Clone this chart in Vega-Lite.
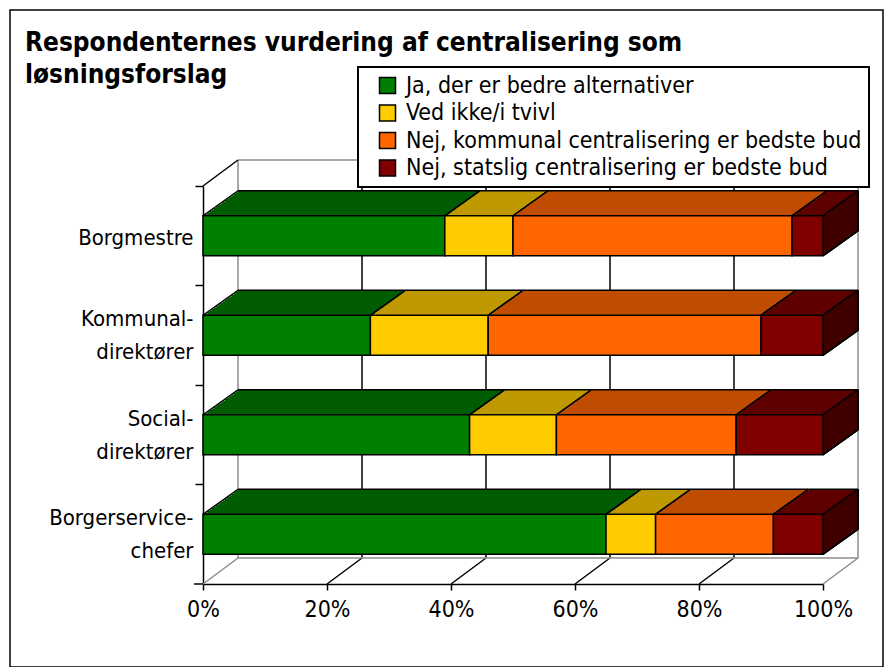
{
"$schema":"https://vega.github.io/schema/vega-lite/v6.json",
"width":873,"height":657,
"autosize":{"type":"none"},
"padding":{"left":10,"top":10,"right":10,"bottom":0},
"background":"#ffffff",
"title":{"text":["Respondenternes vurdering af centralisering som","løsningsforslag"],"anchor":"start","frame":"group","orient":"top","offset":0,"dx":15,"dy":78,"baseline":"top","font":"DejaVu Sans Condensed","fontSize":26,"fontWeight":"bold","lineHeight":32,"color":"#000000"},
"datasets":{
"survey":[
{"group":"Borgmestre","answer":"Ja, der er bedre alternativer","pct":39},
{"group":"Borgmestre","answer":"Ved ikke/i tvivl","pct":11},
{"group":"Borgmestre","answer":"Nej, kommunal centralisering er bedste bud","pct":45},
{"group":"Borgmestre","answer":"Nej, statslig centralisering er bedste bud","pct":5},
{"group":"Kommunal-direktører","answer":"Ja, der er bedre alternativer","pct":27},
{"group":"Kommunal-direktører","answer":"Ved ikke/i tvivl","pct":19},
{"group":"Kommunal-direktører","answer":"Nej, kommunal centralisering er bedste bud","pct":44},
{"group":"Kommunal-direktører","answer":"Nej, statslig centralisering er bedste bud","pct":10},
{"group":"Social-direktører","answer":"Ja, der er bedre alternativer","pct":43},
{"group":"Social-direktører","answer":"Ved ikke/i tvivl","pct":14},
{"group":"Social-direktører","answer":"Nej, kommunal centralisering er bedste bud","pct":29},
{"group":"Social-direktører","answer":"Nej, statslig centralisering er bedste bud","pct":14},
{"group":"Borgerservice-chefer","answer":"Ja, der er bedre alternativer","pct":65},
{"group":"Borgerservice-chefer","answer":"Ved ikke/i tvivl","pct":8},
{"group":"Borgerservice-chefer","answer":"Nej, kommunal centralisering er bedste bud","pct":19},
{"group":"Borgerservice-chefer","answer":"Nej, statslig centralisering er bedste bud","pct":8}
],
"grid":[{"v":0},{"v":20},{"v":40},{"v":60},{"v":80},{"v":100}]
},
"layer":[
{
"data":{"name":"grid"},
"encoding":{"x":{"field":"v","type":"quantitative","scale":{"domain":[0,100],"range":[193,813],"nice":false},"axis":null}},
"layer":[
{"mark":{"type":"rule","xOffset":35,"yOffset":-26,"y2Offset":-26,"strokeWidth":1.5},
 "encoding":{"y":{"datum":0,"type":"quantitative","scale":{"domain":[0,1],"range":[176,574],"nice":false,"zero":false},"axis":null},"y2":{"datum":1},
 "color":{"condition":{"test":"datum.v==0||datum.v==100","value":"#8c8c8c"},"value":"#000000"}}},
{"mark":{"type":"rule","x2Offset":35,"y2Offset":-26,"strokeWidth":1.5},
 "encoding":{"x2":{"field":"v"},"y":{"datum":1,"type":"quantitative"},"y2":{"datum":1},
 "color":{"condition":{"test":"datum.v==0||datum.v==100","value":"#8c8c8c"},"value":"#000000"}}},
{"transform":[{"filter":"datum.v==0"}],
 "mark":{"type":"rule","xOffset":35,"x2Offset":35,"yOffset":-26,"y2Offset":-26,"strokeWidth":1.5,"color":"#8c8c8c"},
 "encoding":{"x":{"datum":0,"type":"quantitative"},"x2":{"datum":100},"y":{"datum":1,"type":"quantitative"},"y2":{"datum":1}}},
{"transform":[{"filter":"datum.v==0"}],
 "mark":{"type":"rule","xOffset":35,"x2Offset":35,"yOffset":-26,"y2Offset":-26,"strokeWidth":1.5,"color":"#8c8c8c"},
 "encoding":{"x":{"datum":0,"type":"quantitative"},"x2":{"datum":100},"y":{"datum":0,"type":"quantitative"},"y2":{"datum":0}}},
{"transform":[{"filter":"datum.v==0"}],
 "mark":{"type":"rule","x2Offset":35,"y2Offset":-26,"strokeWidth":1.5,"color":"#000000"},
 "encoding":{"x":{"datum":0,"type":"quantitative"},"x2":{"datum":0},"y":{"datum":0,"type":"quantitative"},"y2":{"datum":0}}},
{"transform":[{"filter":"datum.v==0"}],
 "mark":{"type":"rule","x2Offset":-9,"strokeWidth":1.5,"color":"#000000"},
 "encoding":{"x":{"datum":0,"type":"quantitative"},"x2":{"datum":0},"y":{"datum":1,"type":"quantitative"},"y2":{"datum":1}}}
]
},
{
"data":{"name":"survey"},
"transform":[{"stack":"pct","groupby":["group"],"as":["x0","x1"]}],
"encoding":{
 "x":{"field":"x0","type":"quantitative","scale":{"domain":[0,100],"range":[193,813],"nice":false},"axis":null},
 "x2":{"field":"x1"},
 "y":{"field":"group","type":"nominal","sort":null,"scale":{"range":[176,574],"paddingInner":0,"paddingOuter":0},"axis":null}
},
"layer":[
{"mark":{"type":"bar","height":40,"xOffset":35,"x2Offset":35,"yOffset":-25},"encoding":{
 "y":{"field":"group","type":"nominal","sort":null,"axis":{"orient":"left","offset":-193,"labels":false,"ticks":true,"tickSize":8,"tickColor":"#000000","tickWidth":1.5,"domain":true,"domainColor":"#000000","domainWidth":1.5,"bandPosition":0,"title":null,"grid":false}},
 "fill":{"field":"answer","type":"nominal","scale":{"domain":["Ja, der er bedre alternativer","Ved ikke/i tvivl","Nej, kommunal centralisering er bedste bud","Nej, statslig centralisering er bedste bud"],"range":["#005c00","#bf9900","#bf4c00","#5f0000"]},"legend":null}}},
{"mark":{"type":"bar","height":40,"xOffset":32.81,"x2Offset":32.81,"yOffset":-23.44},"encoding":{"fill":{"field":"answer","type":"nominal","legend":null}}},
{"mark":{"type":"bar","height":40,"xOffset":30.63,"x2Offset":30.63,"yOffset":-21.88},"encoding":{"fill":{"field":"answer","type":"nominal","legend":null}}},
{"mark":{"type":"bar","height":40,"xOffset":28.44,"x2Offset":28.44,"yOffset":-20.31},"encoding":{"fill":{"field":"answer","type":"nominal","legend":null}}},
{"mark":{"type":"bar","height":40,"xOffset":26.25,"x2Offset":26.25,"yOffset":-18.75},"encoding":{"fill":{"field":"answer","type":"nominal","legend":null}}},
{"mark":{"type":"bar","height":40,"xOffset":24.06,"x2Offset":24.06,"yOffset":-17.19},"encoding":{"fill":{"field":"answer","type":"nominal","legend":null}}},
{"mark":{"type":"bar","height":40,"xOffset":21.88,"x2Offset":21.88,"yOffset":-15.63},"encoding":{"fill":{"field":"answer","type":"nominal","legend":null}}},
{"mark":{"type":"bar","height":40,"xOffset":19.69,"x2Offset":19.69,"yOffset":-14.06},"encoding":{"fill":{"field":"answer","type":"nominal","legend":null}}},
{"mark":{"type":"bar","height":40,"xOffset":17.5,"x2Offset":17.5,"yOffset":-12.5},"encoding":{"fill":{"field":"answer","type":"nominal","legend":null}}},
{"mark":{"type":"bar","height":40,"xOffset":15.31,"x2Offset":15.31,"yOffset":-10.94},"encoding":{"fill":{"field":"answer","type":"nominal","legend":null}}},
{"mark":{"type":"bar","height":40,"xOffset":13.13,"x2Offset":13.13,"yOffset":-9.38},"encoding":{"fill":{"field":"answer","type":"nominal","legend":null}}},
{"mark":{"type":"bar","height":40,"xOffset":10.94,"x2Offset":10.94,"yOffset":-7.81},"encoding":{"fill":{"field":"answer","type":"nominal","legend":null}}},
{"mark":{"type":"bar","height":40,"xOffset":8.75,"x2Offset":8.75,"yOffset":-6.25},"encoding":{"fill":{"field":"answer","type":"nominal","legend":null}}},
{"mark":{"type":"bar","height":40,"xOffset":6.56,"x2Offset":6.56,"yOffset":-4.69},"encoding":{"fill":{"field":"answer","type":"nominal","legend":null}}},
{"mark":{"type":"bar","height":40,"xOffset":4.38,"x2Offset":4.38,"yOffset":-3.13},"encoding":{"fill":{"field":"answer","type":"nominal","legend":null}}},
{"mark":{"type":"bar","height":40,"xOffset":2.19,"x2Offset":2.19,"yOffset":-1.56},"encoding":{"fill":{"field":"answer","type":"nominal","legend":null}}},
{"mark":{"type":"bar","height":40,"xOffset":32.3,"x2Offset":35,"yOffset":-25,"color":"#400000"},"encoding":{"x":{"datum":100,"type":"quantitative"},"x2":{"datum":100}}},
{"mark":{"type":"bar","height":40,"xOffset":30.1,"x2Offset":32.81,"yOffset":-23.44,"color":"#400000"},"encoding":{"x":{"datum":100,"type":"quantitative"},"x2":{"datum":100}}},
{"mark":{"type":"bar","height":40,"xOffset":27.9,"x2Offset":30.63,"yOffset":-21.88,"color":"#400000"},"encoding":{"x":{"datum":100,"type":"quantitative"},"x2":{"datum":100}}},
{"mark":{"type":"bar","height":40,"xOffset":25.7,"x2Offset":28.44,"yOffset":-20.31,"color":"#400000"},"encoding":{"x":{"datum":100,"type":"quantitative"},"x2":{"datum":100}}},
{"mark":{"type":"bar","height":40,"xOffset":23.5,"x2Offset":26.25,"yOffset":-18.75,"color":"#400000"},"encoding":{"x":{"datum":100,"type":"quantitative"},"x2":{"datum":100}}},
{"mark":{"type":"bar","height":40,"xOffset":21.3,"x2Offset":24.06,"yOffset":-17.19,"color":"#400000"},"encoding":{"x":{"datum":100,"type":"quantitative"},"x2":{"datum":100}}},
{"mark":{"type":"bar","height":40,"xOffset":19.1,"x2Offset":21.88,"yOffset":-15.63,"color":"#400000"},"encoding":{"x":{"datum":100,"type":"quantitative"},"x2":{"datum":100}}},
{"mark":{"type":"bar","height":40,"xOffset":17.0,"x2Offset":19.69,"yOffset":-14.06,"color":"#400000"},"encoding":{"x":{"datum":100,"type":"quantitative"},"x2":{"datum":100}}},
{"mark":{"type":"bar","height":40,"xOffset":14.8,"x2Offset":17.5,"yOffset":-12.5,"color":"#400000"},"encoding":{"x":{"datum":100,"type":"quantitative"},"x2":{"datum":100}}},
{"mark":{"type":"bar","height":40,"xOffset":12.6,"x2Offset":15.31,"yOffset":-10.94,"color":"#400000"},"encoding":{"x":{"datum":100,"type":"quantitative"},"x2":{"datum":100}}},
{"mark":{"type":"bar","height":40,"xOffset":10.4,"x2Offset":13.13,"yOffset":-9.38,"color":"#400000"},"encoding":{"x":{"datum":100,"type":"quantitative"},"x2":{"datum":100}}},
{"mark":{"type":"bar","height":40,"xOffset":8.2,"x2Offset":10.94,"yOffset":-7.81,"color":"#400000"},"encoding":{"x":{"datum":100,"type":"quantitative"},"x2":{"datum":100}}},
{"mark":{"type":"bar","height":40,"xOffset":6.0,"x2Offset":8.75,"yOffset":-6.25,"color":"#400000"},"encoding":{"x":{"datum":100,"type":"quantitative"},"x2":{"datum":100}}},
{"mark":{"type":"bar","height":40,"xOffset":3.8,"x2Offset":6.56,"yOffset":-4.69,"color":"#400000"},"encoding":{"x":{"datum":100,"type":"quantitative"},"x2":{"datum":100}}},
{"mark":{"type":"bar","height":40,"xOffset":1.7,"x2Offset":4.38,"yOffset":-3.13,"color":"#400000"},"encoding":{"x":{"datum":100,"type":"quantitative"},"x2":{"datum":100}}},
{"mark":{"type":"bar","height":40,"xOffset":0,"x2Offset":2.19,"yOffset":-1.56,"color":"#400000"},"encoding":{"x":{"datum":100,"type":"quantitative"},"x2":{"datum":100}}},
{"mark":{"type":"bar","height":40,"stroke":"#000000","strokeWidth":1.5},"encoding":{
 "x":{"field":"x0","type":"quantitative","axis":{"orient":"bottom","offset":-83,"grid":false,"values":[0,20,40,60,80,100],"labelFlush":false,"labelExpr":"datum.value + '%'","tickSize":6,"tickColor":"#000000","tickWidth":1.5,"domainColor":"#000000","domainWidth":1.5,"labelFont":"DejaVu Sans Condensed","labelFontSize":23,"labelColor":"#000000","labelPadding":8,"title":null}},
 "y":{"field":"group","type":"nominal","sort":null,"axis":{"orient":"left","offset":-193,"ticks":false,"domain":false,"labelPadding":10,"labelFont":"DejaVu Sans Condensed","labelFontSize":22,"labelColor":"#000000","labelLineHeight":33,"labelLimit":300,"labelExpr":"split(replace(datum.label,'-','-|'),'|')","labelOffset":{"condition":{"test":"indexof(datum.value,'-')>=0","value":-16},"value":2},"title":null,"grid":false}},
 "color":{"field":"answer","type":"nominal","scale":{"domain":["Ja, der er bedre alternativer","Ved ikke/i tvivl","Nej, kommunal centralisering er bedste bud","Nej, statslig centralisering er bedste bud"],"range":["#008000","#ffcc00","#ff6600","#800000"]},
  "legend":{"orient":"none","legendX":348,"legendY":57,"title":null,"padding":7,"strokeColor":"#000000","fillColor":"#ffffff","symbolType":"square","symbolSize":256,"symbolStrokeColor":"#000000","symbolStrokeWidth":1.5,"symbolOffset":11,"labelFont":"DejaVu Sans Condensed","labelFontSize":23,"labelColor":"#000000","labelOffset":7,"rowPadding":3.5,"labelLimit":600,"zindex":1}}}},
{"mark":{"type":"rule","xOffset":35,"x2Offset":35,"yOffset":-45,"color":"#000000","strokeWidth":1.5},"encoding":{}},
{"mark":{"type":"rule","x2Offset":35,"yOffset":-20,"y2Offset":-45,"color":"#000000","strokeWidth":1.5},"encoding":{"x2":{"field":"x0"},"y2":{"field":"group"}}},
{"mark":{"type":"rule","x2Offset":35,"yOffset":-20,"y2Offset":-45,"color":"#000000","strokeWidth":1.5},"encoding":{"x":{"field":"x1","type":"quantitative"},"x2":{"field":"x1"},"y2":{"field":"group"}}},
{"mark":{"type":"rule","xOffset":35,"x2Offset":35,"yOffset":-45,"y2Offset":-5,"color":"#000000","strokeWidth":1.5},"encoding":{"x":{"datum":100,"type":"quantitative"},"x2":{"datum":100},"y2":{"field":"group"}}},
{"mark":{"type":"rule","x2Offset":35,"yOffset":20,"y2Offset":-5,"color":"#000000","strokeWidth":1.5},"encoding":{"x":{"datum":100,"type":"quantitative"},"x2":{"datum":100},"y2":{"field":"group"}}}
],
"resolve":{"axis":{"y":"independent","x":"independent"},"legend":{"color":"independent"}}
}
],
"resolve":{"scale":{"y":"independent"},"axis":{"x":"independent","y":"independent"},"legend":{"color":"independent"}},
"config":{"view":{"stroke":"#000000","strokeWidth":1.5},"font":"DejaVu Sans Condensed","legend":{"strokeWidth":2}}
}
